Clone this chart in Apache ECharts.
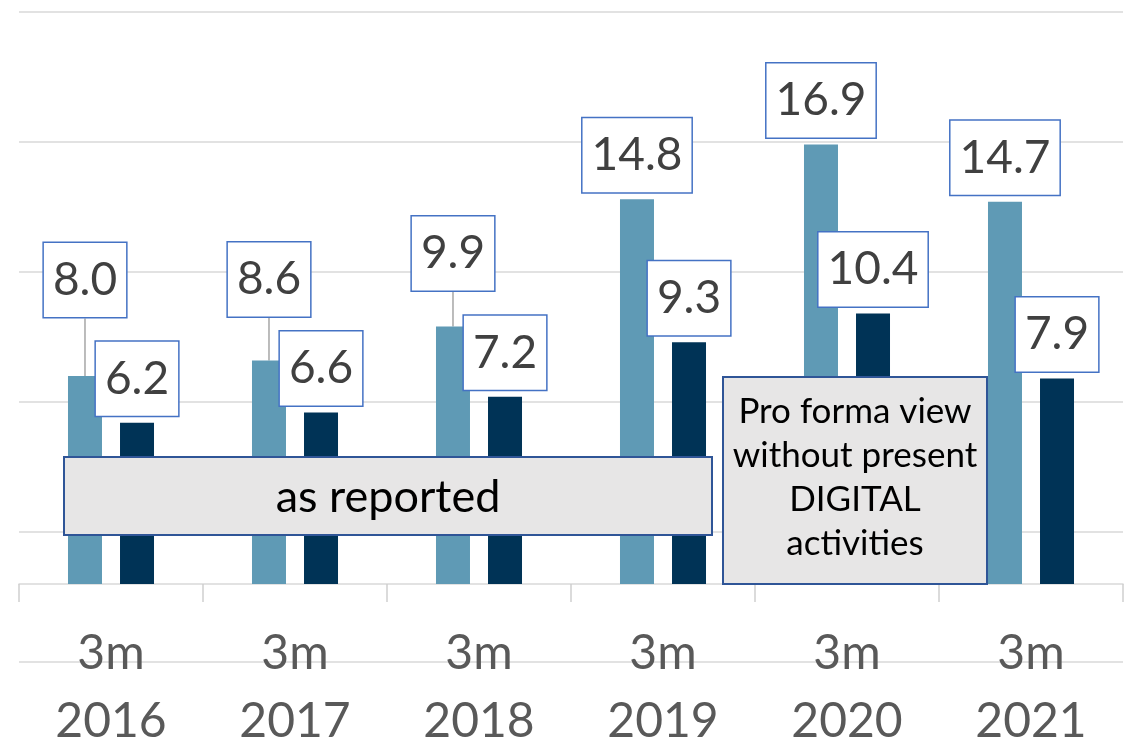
<!DOCTYPE html>
<html>
    <head>
        <meta charset="utf-8">
        <title>3m results</title>
        <script src="https://cdn.jsdelivr.net/npm/echarts@6/dist/echarts.min.js"></script>
        <style>
            body { margin: 0; background: #fff; }
        </style>
    </head>
    <body>
        <div id="chart" style="width: 1127px;height: 747px;"></div>
        <script>
            var categories = ['3m\n2016', '3m\n2017', '3m\n2018', '3m\n2019', '3m\n2020', '3m\n2021'];
            var lightValues = [8.0, 8.6, 9.9, 14.8, 16.9, 14.7];
            var darkValues = [6.2, 6.6, 7.2, 9.3, 10.4, 7.9];
            // gridlines run from -3 to 22 in steps of 5, bars sit on 0
            var gridMin = -3, gridMax = 22, gridStep = 5;

            // label lift (px) for the first bars, which had their labels pulled up with a leader line
            var lightLift = [-52, -37, -29, 0, 0, 0];

            var font = 'Lato, "Open Sans", sans-serif';

            var labelBox = {
                show: true,
                position: 'top',
                distance: 7,
                formatter: function (p) { return p.value.toFixed(1); },
                fontFamily: font,
                fontSize: 46,
                lineHeight: 52,
                color: '#404040',
                backgroundColor: '#fff',
                borderColor: '#4472c4',
                borderWidth: 1.5,
                padding: [11, 9]
            };

            var boxStyle = { fill: '#e7e6e6', stroke: '#2f5597', lineWidth: 2 };
            var gray = '#d9d9d9';

            var option = {
                animation: false,
                grid: [
                    // bars: 0 .. 22
                    { left: 19, right: 4, top: 12, bottom: 163, outerBoundsMode: 'none', containLabel: false },
                    // gridlines: -3 .. 22
                    { left: 19, right: 4, top: 12, bottom: 85, outerBoundsMode: 'none', containLabel: false }
                ],
                xAxis: [
                    {
                        type: 'category',
                        gridIndex: 0,
                        data: categories,
                        axisLine: { show: true, lineStyle: { color: gray, width: 1.5 } },
                        axisTick: { show: true, interval: 0, length: 18, lineStyle: { color: '#d0d0d0', width: 1.5 } },
                        axisLabel: {
                            margin: 36,
                            fontFamily: font,
                            fontSize: 48,
                            lineHeight: 68,
                            color: '#595959'
                        }
                    },
                    {
                        type: 'category',
                        gridIndex: 1,
                        data: categories,
                        show: false
                    }
                ],
                yAxis: [
                    {
                        type: 'value',
                        gridIndex: 0,
                        min: 0,
                        max: gridMax,
                        show: false,
                        splitLine: { show: false }
                    },
                    {
                        type: 'value',
                        gridIndex: 1,
                        min: gridMin,
                        max: gridMax,
                        interval: gridStep,
                        axisLabel: { show: false },
                        axisLine: { show: false },
                        axisTick: { show: false },
                        splitLine: { lineStyle: { color: gray, width: 1.5 } }
                    }
                ],
                series: [
                    {
                        name: 'light',
                        type: 'bar',
                        xAxisIndex: 0,
                        yAxisIndex: 0,
                        barWidth: 34,
                        barGap: '53%',
                        itemStyle: { color: '#5f9ab5' },
                        data: lightValues.map(function (v, i) {
                            return { value: v, labelLine: { show: lightLift[i] !== 0 } };
                        }),
                        label: labelBox,
                        labelLine: { lineStyle: { color: '#a6a6a6', width: 1.5 } },
                        labelLayout: function (params) {
                            return { dy: lightLift[params.dataIndex] };
                        }
                    },
                    {
                        name: 'dark',
                        type: 'bar',
                        xAxisIndex: 0,
                        yAxisIndex: 0,
                        barWidth: 34,
                        barGap: '53%',
                        itemStyle: { color: '#003356' },
                        data: darkValues,
                        label: labelBox
                    }
                ],
                graphic: [
                    {
                        type: 'rect',
                        z: 100,
                        shape: { x: 64, y: 457, width: 648, height: 78 },
                        style: boxStyle
                    },
                    {
                        type: 'text',
                        z: 101,
                        x: 388,
                        y: 497,
                        style: {
                            text: 'as reported',
                            fontFamily: font,
                            fontSize: 45,
                            fill: '#000',
                            align: 'center',
                            verticalAlign: 'middle'
                        }
                    },
                    {
                        type: 'rect',
                        z: 100,
                        shape: { x: 723, y: 377, width: 264, height: 207 },
                        style: boxStyle
                    },
                    {
                        type: 'text',
                        z: 101,
                        x: 855,
                        y: 478,
                        style: {
                            text: 'Pro forma view\nwithout present\nDIGITAL\nactivities',
                            fontFamily: font,
                            fontSize: 35,
                            lineHeight: 44,
                            fill: '#000',
                            align: 'center',
                            verticalAlign: 'middle'
                        }
                    }
                ]
            };

            var chart = echarts.init(document.getElementById('chart'));
            chart.setOption(option);
        </script>
    </body>
</html>
